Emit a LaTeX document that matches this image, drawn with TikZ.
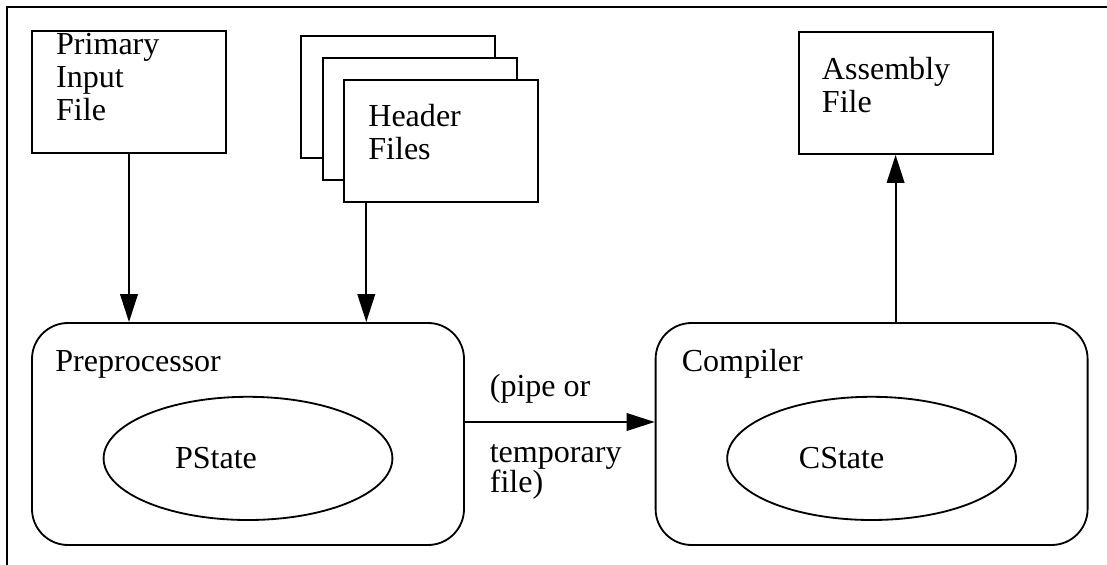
\documentclass[tikz,border=0pt]{standalone}
\usepackage{fontspec}
\setmainfont{Liberation Serif}
\usetikzlibrary{arrows.meta,shapes.geometric}

\tikzset{
  filebox/.style={draw,line width=1.3pt,fill=white,minimum width=4.85cm,minimum height=3.05cm,inner sep=0pt},
  procbox/.style={draw,line width=1.3pt,rounded corners=0.9cm,minimum width=10.8cm,minimum height=5.55cm,inner sep=0pt},
  statebox/.style={draw,line width=1.3pt,ellipse,minimum width=7.22cm,minimum height=3.08cm,inner sep=0pt},
  txt/.style={font=\fontsize{22.8}{23.5}\selectfont,inner sep=0pt,align=left},
  flow/.style={line width=1.3pt,-{Triangle[length=0.7cm,width=0.44cm]}},
}

\begin{document}
\begin{tikzpicture}
\useasboundingbox (0,0) rectangle (27.675,-14.125);
% open frame, top and left side only
\draw[line width=1.5pt] (0.175,-14.125)--(0.175,-0.175)--(27.675,-0.175);

% files (base west = baseline of the last line)
\node[filebox] (prim) at (3.225,-2.3) {};
\node[txt,anchor=base west] at ([xshift=0.62cm,yshift=-2.25cm]prim.north west) {Primary\\Input\\File};
\node[filebox] (hdrc) at (9.95,-2.425) {};
\node[filebox] (hdrb) at ([shift={(0.54,-0.55)}]hdrc.center) {};
\node[filebox] (hdr) at ([shift={(0.54,-0.55)}]hdrb.center) {};
\node[txt,anchor=base west] at ([xshift=0.62cm,yshift=-2.0cm]hdr.north west) {Header\\Files};
\node[filebox] (asm) at (22.39,-2.325) {};
\node[txt,anchor=base west] at ([xshift=0.6cm,yshift=-2.025cm]asm.north west) {Assembly\\File};

% the two passes
\node[procbox] (pre) at (6.2,-10.85) {};
\node[txt,anchor=base west] at ([xshift=0.6cm,yshift=-1.225cm]pre.north west) {Preprocessor};
\node[statebox] (pst) at ([yshift=-0.61cm]pre.center) {};
\node[txt] at ([xshift=-0.8cm]pst.center) {PState};
\node[procbox] (comp) at (21.79,-10.85) {};
\node[txt,anchor=base west] at ([xshift=0.67cm,yshift=-1.225cm]comp.north west) {Compiler};
\node[statebox] (cst) at ([yshift=-0.61cm]comp.center) {};
\node[txt] at ([xshift=-0.75cm]cst.center) {CState};

% data flow
\draw[flow] (prim.south) -- (prim.south |- pre.north);
\draw[flow] ([xshift=0.575cm]hdr.south west) -- ([xshift=0.575cm]hdr.south west |- pre.north);
\draw[flow] ([yshift=0.3cm]pre.east) -- ([yshift=0.3cm]comp.west)
  node[txt,pos=0,anchor=base west,xshift=0.6cm,yshift=0.625cm] {(pipe or}
  node[txt,pos=0,anchor=base west,xshift=0.6cm,yshift=-1.775cm] {temporary\\[-2pt]file)};
\draw[flow] (comp.north -| asm.south) -- (asm.south);
\end{tikzpicture}
\end{document}
